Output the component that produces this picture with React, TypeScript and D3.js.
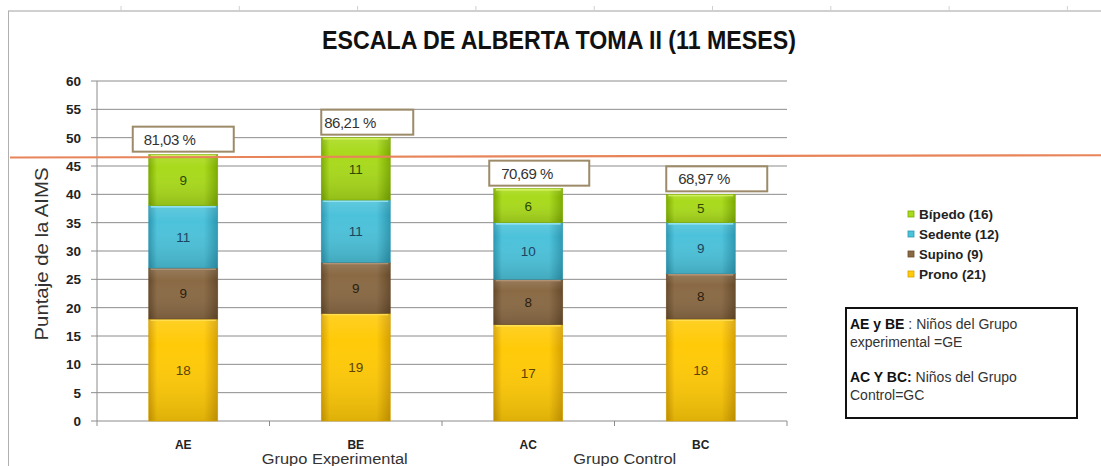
import React from 'react';
import * as d3 from 'd3';

const categories = ['AE', 'BE', 'AC', 'BC'];
const prono = [18, 19, 17, 18];
const supino = [9, 9, 8, 8];
const sedente = [11, 11, 10, 9];
const bipedo = [9, 11, 6, 5];
const percentLabels = ['81,03 %', '86,21 %', '70,69 %', '68,97 %'];
const yTicks = [0, 5, 10, 15, 20, 25, 30, 35, 40, 45, 50, 55, 60];
const legendLabels = ['Bípedo (16)', 'Sedente (12)', 'Supino (9)', 'Prono (21)'];
const refLine = [46.5, 46.9]; // hand drawn line, left and right end

const series = [
  { key: 'prono', values: prono, mid: '#ffca08', edge: '#d6a000', top: '#ffe25a', text: '#5c4300' },
  { key: 'supino', values: supino, mid: '#8a6a45', edge: '#664a2a', top: '#b8987a', text: '#2b1d0e' },
  { key: 'sedente', values: sedente, mid: '#4cc2da', edge: '#2c98b2', top: '#9eeaf6', text: '#1b4560' },
  { key: 'bipedo', values: bipedo, mid: '#a9da1c', edge: '#7cab00', top: '#d8f46a', text: '#2d4a00' },
];

// annotation boxes were placed by hand in the original
const boxLayout = [
  { dx: -50.5, w: 101, tx: 11 },
  { dx: -34.5, w: 92, tx: 3 },
  { dx: -39, w: 100, tx: 12 },
  { dx: -34.5, w: 101, tx: 12 },
];

const W = 1101;
const H = 466;
const margin = { left: 97, right: 314, top: 81, bottom: 45 };
const FONT = '"Liberation Sans", Arial, sans-serif';

export default function App() {
  const x = d3
    .scaleBand<string>()
    .domain(categories)
    .range([margin.left, W - margin.right])
    .paddingInner(0.6)
    .paddingOuter(0.3);
  const y = d3.scaleLinear().domain([0, 60]).range([H - margin.bottom, margin.top]);

  const stackData = categories.map((c, i) => {
    const row: any = { cat: c };
    series.forEach((s) => (row[s.key] = s.values[i]));
    return row;
  });
  const stacked = d3.stack<any>().keys(series.map((s) => s.key))(stackData);

  const x0 = margin.left;
  const x1 = W - margin.right;
  const step = x.step();
  const legendColors = [series[3], series[2], series[1], series[0]];

  return (
    <div style={{ position: 'absolute', left: 0, top: 0 }}>
      <svg width={W} height={H} style={{ display: 'block', background: '#fff' }} fontFamily={FONT}>
        <defs>
          {series.map((s) => (
            <linearGradient key={s.key} id={`g-${s.key}`} x1="0" x2="1" y1="0" y2="0">
              <stop offset="0%" stopColor={s.edge} />
              <stop offset="12%" stopColor={s.mid} />
              <stop offset="80%" stopColor={s.mid} />
              <stop offset="100%" stopColor={s.edge} />
            </linearGradient>
          ))}
          <linearGradient id="shade" x1="0" x2="0" y1="0" y2="1">
            <stop offset="0%" stopColor="#fff" stopOpacity={0.12} />
            <stop offset="25%" stopColor="#fff" stopOpacity={0} />
            <stop offset="100%" stopColor="#000" stopOpacity={0.13} />
          </linearGradient>
        </defs>

        {/* outer frame of the sheet */}
        <line x1={8} x2={W} y1={11} y2={11} stroke="#a0a0a0" strokeWidth={1} />
        <line x1={8.5} x2={8.5} y1={11} y2={H} stroke="#b0b0b0" strokeWidth={1} />
        {d3.range(121, W, 118.3).map((t, i) => (
          <line key={i} x1={t} x2={t} y1={6} y2={11} stroke="#d0d0d0" />
        ))}

        <text
          x={559}
          y={49}
          textAnchor="middle"
          fontSize={25}
          fontWeight="bold"
          fill="#111"
          textLength={474}
          lengthAdjust="spacingAndGlyphs"
        >
          ESCALA DE ALBERTA TOMA II (11 MESES)
        </text>

        {/* grid */}
        {yTicks.map((t) => (
          <g key={t}>
            <line x1={x0} x2={x1} y1={y(t)} y2={y(t)} stroke="#8c8c8c" strokeWidth={1} />
            <line x1={x0 - 6} x2={x0} y1={y(t)} y2={y(t)} stroke="#8c8c8c" />
            <text x={81} y={y(t)} dy="0.36em" textAnchor="end" fontSize={13.5} fontWeight="bold" fill="#222">
              {t}
            </text>
          </g>
        ))}
        <line x1={x0} x2={x0} y1={y(60)} y2={y(0)} stroke="#8c8c8c" />
        {d3.range(0, categories.length + 1).map((i) => (
          <line key={i} x1={x0 + i * step} x2={x0 + i * step} y1={y(0)} y2={y(0) + 5} stroke="#8c8c8c" />
        ))}

        <text
          transform={`translate(48,254) rotate(-90)`}
          textAnchor="middle"
          fontSize={18}
          fill="#333"
          textLength={173}
          lengthAdjust="spacingAndGlyphs"
        >
          Puntaje de la AIMS
        </text>

        {/* bars */}
        {stacked.map((layer, li) => {
          const s = series[li];
          return (
            <g key={s.key}>
              {layer.map((d, i) => {
                const bx = x(categories[i])!;
                const top = y(d[1]);
                const h = y(d[0]) - y(d[1]);
                return (
                  <g key={i}>
                    <rect x={bx} y={top} width={x.bandwidth()} height={h} fill={`url(#g-${s.key})`} />
                    <rect x={bx} y={top} width={x.bandwidth()} height={h} fill="url(#shade)" />
                    <rect x={bx + 2} y={top} width={x.bandwidth() - 4} height={2} fill={s.top} opacity={0.8} />
                    <rect x={bx} y={top} width={x.bandwidth()} height={h} fill="none" stroke={s.edge} strokeWidth={0.6} />
                    <text
                      x={bx + x.bandwidth() / 2}
                      y={(top + y(d[0])) / 2}
                      dy="0.36em"
                      textAnchor="middle"
                      fontSize={13.5}
                      fill={s.text}
                    >
                      {s.values[i]}
                    </text>
                  </g>
                );
              })}
            </g>
          );
        })}

        {/* reference line */}
        <line x1={10} x2={W} y1={y(refLine[0])} y2={y(refLine[1])} stroke="#e8845a" strokeWidth={2.2} />

        {/* percent boxes */}
        {categories.map((c, i) => {
          const total = series.reduce((a, s) => a + s.values[i], 0);
          const cx = x(c)! + x.bandwidth() / 2;
          const b = boxLayout[i];
          const bx = cx + b.dx;
          const by = y(total) - 28;
          return (
            <g key={c}>
              <rect x={bx} y={by} width={b.w} height={25} fill="#fff" stroke="#9c8a68" strokeWidth={2} />
              <text x={bx + b.tx} y={by + 18} fontSize={15} fill="#333" letterSpacing={-0.5}>
                {percentLabels[i]}
              </text>
            </g>
          );
        })}

        {/* x labels */}
        {categories.map((c) => (
          <text key={c} x={x(c)! + x.bandwidth() / 2} y={449} textAnchor="middle" fontSize={12} fontWeight="bold" fill="#222">
            {c}
          </text>
        ))}
        <text x={x('BE')! + x.bandwidth() / 2 - 21} y={464} textAnchor="middle" fontSize={14} fill="#333" textLength={146} lengthAdjust="spacingAndGlyphs">
          Grupo Experimental
        </text>
        <text x={x('BC')! + x.bandwidth() / 2 - 76} y={464} textAnchor="middle" fontSize={14} fill="#333" textLength={103} lengthAdjust="spacingAndGlyphs">
          Grupo Control
        </text>

        {/* legend */}
        {legendLabels.map((l, i) => (
          <g key={l} transform={`translate(908, ${214 + i * 20})`}>
            <rect x={0} y={-3} width={6} height={6} fill={legendColors[i].mid} stroke={legendColors[i].edge} strokeWidth={0.8} />
            <text x={11} y={0} dy="0.36em" fontSize={13} fontWeight="bold" fill="#222" textLength={[74, 80, 64, 67][i]} lengthAdjust="spacingAndGlyphs">
              {l}
            </text>
          </g>
        ))}

        {/* note box */}
        <rect x={846} y={308} width={231} height={110} fill="#fff" stroke="#111" strokeWidth={2} />
        <g fontSize={14} fill="#333">
          <text x={850} y={329}>
            <tspan fontWeight="bold" fill="#111">AE y BE</tspan>
            <tspan> : Niños del Grupo</tspan>
          </text>
          <text x={850} y={347}>experimental =GE</text>
          <text x={850} y={382}>
            <tspan fontWeight="bold" fill="#111">AC Y BC:</tspan>
            <tspan>  Niños del Grupo</tspan>
          </text>
          <text x={850} y={400}>Control=GC</text>
        </g>
      </svg>
    </div>
  );
}
